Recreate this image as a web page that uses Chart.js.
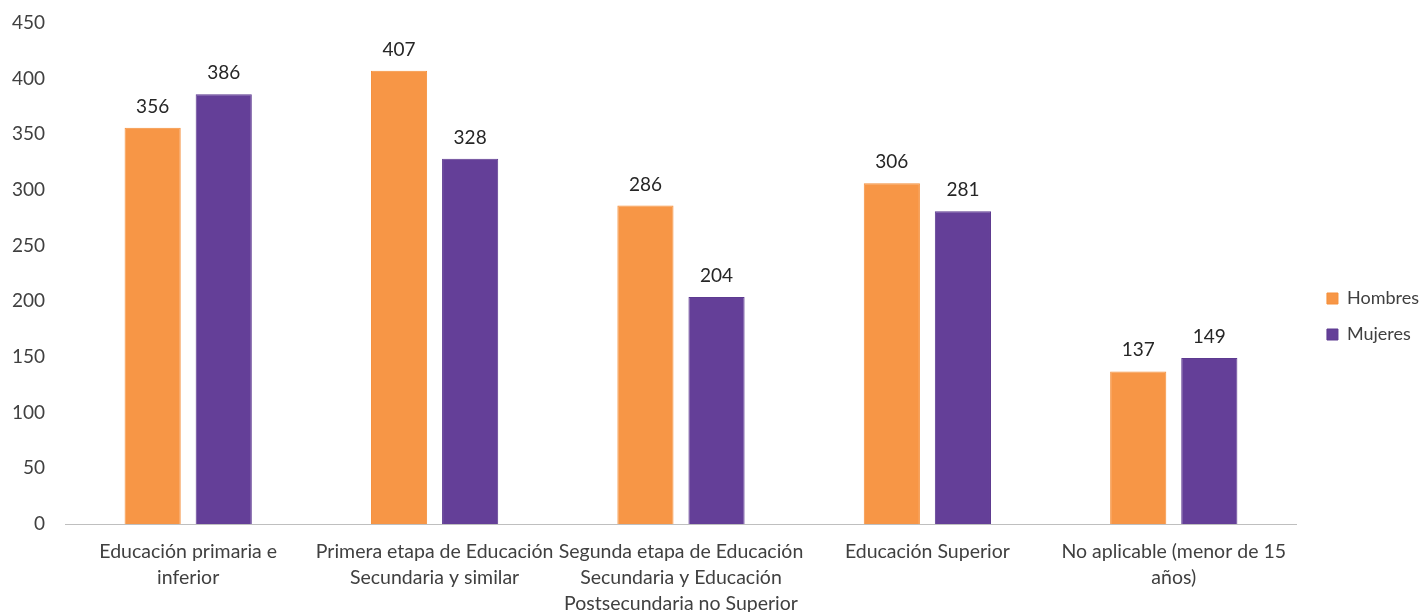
<!DOCTYPE html>
<html>
<head>
<meta charset="utf-8">
<script src="https://cdn.jsdelivr.net/npm/chart.js@4/dist/chart.umd.min.js"></script>
<style>
html,body{margin:0;padding:0;background:#fff;}
#wrap{width:1425px;height:612px;position:relative;}
</style>
</head>
<body>
<div id="wrap"><canvas id="c"></canvas></div>
<script>
const categories = [
  ["Educación primaria e", "inferior"],
  ["Primera etapa de Educación", "Secundaria y similar"],
  ["Segunda etapa de Educación", "Secundaria y Educación", "Postsecundaria no Superior"],
  ["Educación Superior"],
  ["No aplicable (menor de 15", "años)"]
];
const hombres = [356, 407, 286, 306, 137];
const mujeres = [386, 328, 204, 281, 149];
const seriesNames = ["Hombres", "Mujeres"];
const yTicks = [0, 50, 100, 150, 200, 250, 300, 350, 400, 450];

const FONT = "Lato, 'Open Sans', sans-serif";

const valueLabels = {
  id: 'valueLabels',
  afterDatasetsDraw(chart) {
    const ctx = chart.ctx;
    ctx.save();
    ctx.font = "19px " + FONT;
    ctx.fillStyle = '#262626';
    ctx.textAlign = 'center';
    ctx.textBaseline = 'alphabetic';
    chart.data.datasets.forEach((ds, i) => {
      const meta = chart.getDatasetMeta(i);
      meta.data.forEach((bar, j) => {
        ctx.fillText(String(ds.data[j]), bar.x, bar.y - 15);
      });
    });
    ctx.restore();
  }
};

const legendShift = {
  id: 'legendShift',
  afterLayout(chart) {
    const lg = chart.legend;
    if (lg) { lg.left += 12; lg.right += 12; lg.top -= 1; lg.bottom -= 1; }
  }
};

new Chart(document.getElementById('c'), {
  type: 'bar',
  data: {
    labels: categories,
    datasets: [
      { label: seriesNames[0], data: hombres, backgroundColor: '#F79646', borderColor: '#F58F3A', borderWidth: 1 },
      { label: seriesNames[1], data: mujeres, backgroundColor: '#643F98', borderColor: '#5D3A90', borderWidth: 1 }
    ]
  },
  options: {
    responsive: true,
    maintainAspectRatio: false,
    animation: false,
    layout: { padding: { left: 0, right: 8, top: 23, bottom: 0 } },
    datasets: { bar: { categoryPercentage: 0.577, barPercentage: 0.79 } },
    plugins: {
      legend: {
        position: 'right',
        align: 'center',
        labels: {
          boxWidth: 11, boxHeight: 11, padding: 18,
          color: '#404040',
          font: { family: FONT, size: 18 }
        }
      },
      tooltip: { enabled: false }
    },
    scales: {
      x: {
        afterFit(axis) { axis.height = 88; },
        grid: { display: false, drawTicks: false },
        border: { display: true, color: '#BFBFBF', width: 1 },
        ticks: { color: '#404040', font: { family: FONT, size: 19.5, lineHeight: 1.333 }, maxRotation: 0, autoSkip: false, padding: 15 }
      },
      y: {
        min: 0, max: 450,
        afterFit(axis) { axis.width = 65; axis.paddingTop = 0; axis.paddingBottom = 0; },
        afterBuildTicks(axis) { axis.ticks = yTicks.map(v => ({ value: v })); },
        grid: { display: false, drawTicks: false },
        border: { display: false },
        ticks: { color: '#404040', font: { family: FONT, size: 19 }, padding: 20 }
      }
    }
  },
  plugins: [valueLabels, legendShift]
});
</script>
</body>
</html>
